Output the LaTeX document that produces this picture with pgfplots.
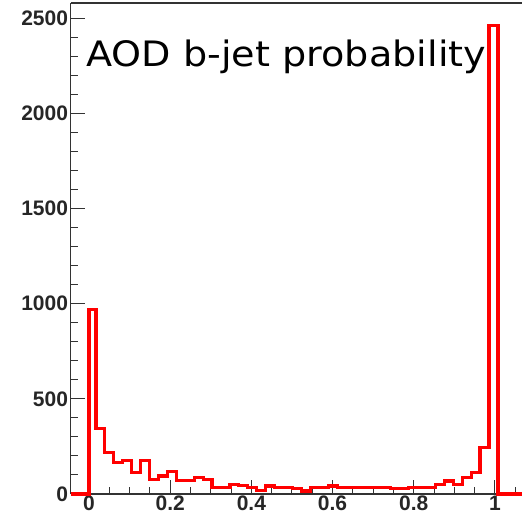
\documentclass[border=0pt]{standalone}
\usepackage{fontspec}
\setmainfont{Liberation Sans}
\newfontfamily\titlefont[FakeStretch=1.09]{DejaVu Sans}
\usepackage{pgfplots}
\pgfplotsset{compat=1.18}

\begin{document}
\begin{tikzpicture}
\begin{axis}[
  at={(0,0)}, anchor=south west,
  scale only axis,
  width=452.3pt, height=491pt,
  xmin=-0.045, xmax=1.069,
  ymin=0, ymax=2579,
  clip=false,
  axis lines=left,
  axis line style={-, line width=1.3pt, black!80},
  tick align=inside,
  tick style={line width=1pt, black!80},
  major tick length=14pt,
  minor tick length=7.5pt,
  xtick={0,0.2,0.4,0.6,0.8,1},
  minor xtick={0.05,0.1,0.15,0.25,0.3,0.35,0.45,0.5,0.55,0.65,0.7,0.75,0.85,0.9,0.95,1.05},
  ytick={0,500,1000,1500,2000,2500},
  minor y tick num=4,
  /pgf/number format/assume math mode=true,
  scaled y ticks=false,
  yticklabel style={/pgf/number format/1000 sep={}},
  ticklabel style={font=\bfseries\fontsize{21}{21}\selectfont, text=black!85},
  yticklabel style={inner xsep=2.5pt},
  xticklabel style={inner ysep=2pt},
]
% b-tag weight histogram (entries per bin)
\addplot[const plot, red, line width=3.2pt, line join=miter] coordinates {
  (-0.045,0) (0,970) (0.0172,344) (0.0392,217) (0.0612,164) (0.0832,175)
  (0.1052,113) (0.1272,174) (0.1492,77) (0.1712,95) (0.1932,120)
  (0.2152,70) (0.2372,70) (0.2592,85) (0.2812,77) (0.3032,34)
  (0.3252,34) (0.3472,52) (0.3692,45) (0.3912,35) (0.4132,17)
  (0.4352,42) (0.4572,35) (0.4792,35) (0.5012,27) (0.5232,16)
  (0.5452,33) (0.5672,33) (0.5892,42) (0.6112,36) (0.6332,33)
  (0.6552,33) (0.6772,33) (0.6992,33) (0.7212,33) (0.7432,27)
  (0.7652,27) (0.7872,33) (0.8092,33) (0.8312,33) (0.8532,50)
  (0.8752,68) (0.8972,50) (0.9192,87) (0.9412,113) (0.9632,245)
  (0.9852,2460) (1.0072,0) (1.069,0)
};
% top frame of the pad
\draw[line width=1.3pt, black!80] (rel axis cs:0,1) -- (rel axis cs:1,1);
\node[anchor=base west, inner sep=0pt, font=\titlefont\fontsize{35}{35}\selectfont]
  at (axis cs:-0.0067,2243) {AOD b-jet probability};
\end{axis}
\pgfresetboundingbox
\useasboundingbox (-70.7pt,-23pt) rectangle (451.3pt,494pt);
\end{tikzpicture}
\end{document}
